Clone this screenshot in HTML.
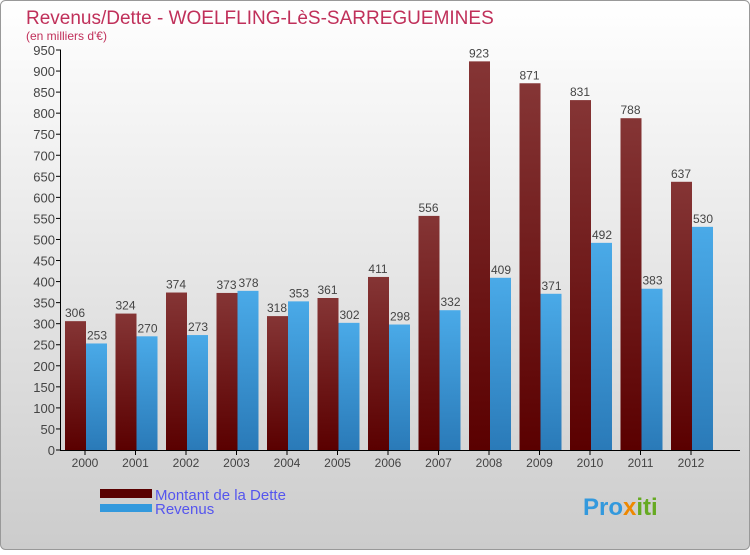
<!DOCTYPE html>
<html><head><meta charset="utf-8"><style>
body{margin:0;width:750px;height:550px;overflow:hidden;font-family:"Liberation Sans",sans-serif}
</style></head><body>
<svg id="c" width="750" height="550" xmlns="http://www.w3.org/2000/svg">
<defs>
<linearGradient id="bg" x1="0" y1="0" x2="0" y2="1"><stop offset="0" stop-color="#ffffff"/><stop offset="1" stop-color="#cccccc"/></linearGradient>
<linearGradient id="gd" x1="0" y1="0" x2="0" y2="1"><stop offset="0" stop-color="#853535"/><stop offset="1" stop-color="#5a0000"/></linearGradient>
<linearGradient id="gr" x1="0" y1="0" x2="0" y2="1"><stop offset="0" stop-color="#4aaae8"/><stop offset="1" stop-color="#2a7ab8"/></linearGradient>
</defs>
<rect x="0.5" y="0.5" width="749" height="549" rx="5" fill="url(#bg)" stroke="#999"/>
<text x="26" y="24" font-size="19" fill="#c0305a">Revenus/Dette - WOELFLING-LèS-SARREGUEMINES</text>
<text x="26" y="40" font-size="12" fill="#c0305a">(en milliers d'€)</text>
<g id="plot"></g>
<rect x="100" y="489" width="52" height="9" fill="#5a0000"/>
<text x="155" y="500" font-size="15" fill="#5555ee">Montant de la Dette</text>
<rect x="100" y="504" width="52" height="8" fill="#3399dd"/>
<text x="155" y="514" font-size="15" fill="#5555ee">Revenus</text>
<text x="583" y="515" font-size="24" font-weight="bold" fill="#3399dd">Pro<tspan fill="#ee8800">x</tspan><tspan fill="#66aa22">iti</tspan></text>
</svg>
<script>
const years=["2000","2001","2002","2003","2004","2005","2006","2007","2008","2009","2010","2011","2012"];
const dette=[306,324,374,373,318,361,411,556,923,871,831,788,637];
const revenus=[253,270,273,378,353,302,298,332,409,371,492,383,530];
const yTicks=[0,50,100,150,200,250,300,350,400,450,500,550,600,650,700,750,800,850,900,950];
const NS="http://www.w3.org/2000/svg";
const g=document.getElementById('plot');
const y0=450,ppu=400/950;
const Y=v=>y0-v*ppu;
const X=i=>85+i*50.5;
function mk(t,a){const e=document.createElementNS(NS,t);for(const k in a)e.setAttribute(k,a[k]);g.appendChild(e);return e;}
yTicks.forEach(v=>{
 const l=mk('line',{x1:56,x2:61,y1:Y(v),y2:Y(v),stroke:'#000'});
 
 
 const t=mk('text',{x:55,y:Y(v)+5,'font-size':13,'text-anchor':'end',fill:'#444'});
 t.textContent=v;
 
 
});
years.forEach((yr,i)=>{
 const c=X(i);
 const b1=mk('rect',{x:c-20,y:Y(dette[i]),width:21,height:dette[i]*ppu,fill:'url(#gd)'});
 
 
 const b2=mk('rect',{x:c+1,y:Y(revenus[i]),width:21,height:revenus[i]*ppu,fill:'url(#gr)'});
 
 
 const t1=mk('text',{x:c-10,y:Y(dette[i])-4,'font-size':12,'text-anchor':'middle',fill:'#444'});
 t1.textContent=dette[i];
 
 
 const t2=mk('text',{x:c+12,y:Y(revenus[i])-4,'font-size':12,'text-anchor':'middle',fill:'#444'});
 t2.textContent=revenus[i];
 
 
 const xt=mk('line',{x1:c,x2:c,y1:450,y2:455,stroke:'#000'});
 
 
 const xl=mk('text',{x:c,y:467,'font-size':12,'text-anchor':'middle',fill:'#444'});
 xl.textContent=yr;
 
 
});
const ya=mk('line',{x1:60.5,x2:60.5,y1:50,y2:450,stroke:'#000'});


const xa=mk('line',{x1:60,x2:740,y1:450.5,y2:450.5,stroke:'#000'});


</script>
</body></html>
